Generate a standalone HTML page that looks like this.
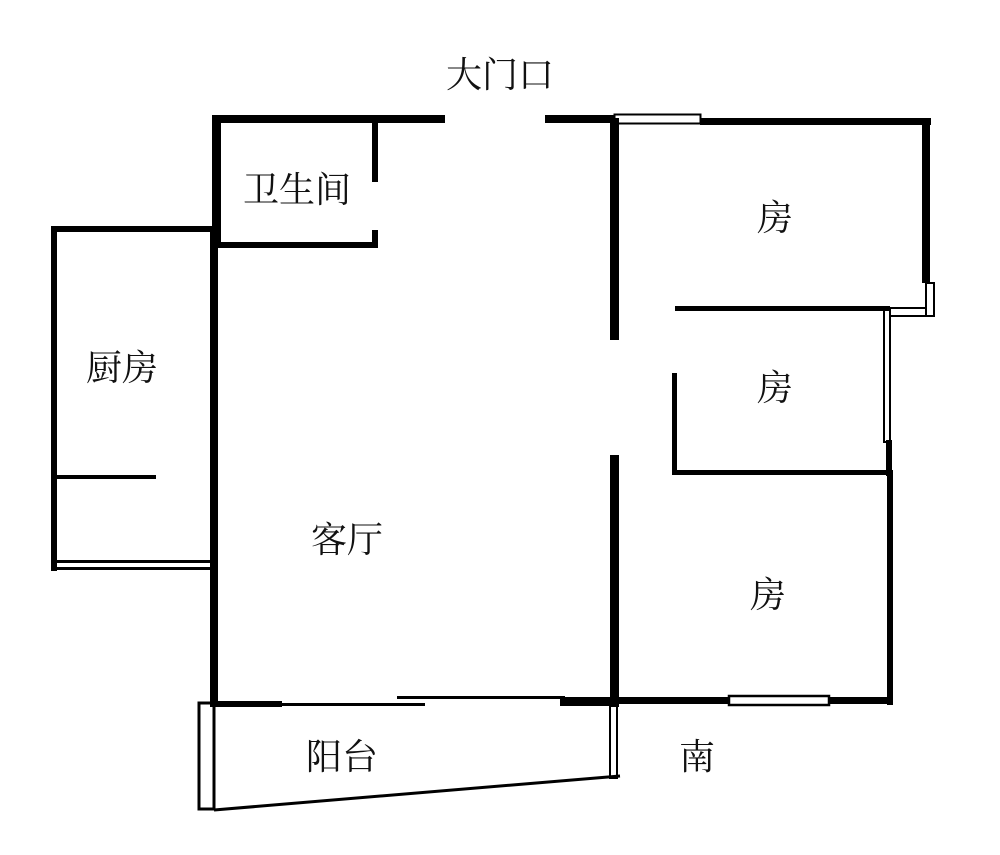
<!DOCTYPE html>
<html><head><meta charset="utf-8"><style>
html,body{margin:0;padding:0;background:#fff;}
svg{display:block;}
text{font-family:"Liberation Serif","Noto Serif CJK SC","Noto Sans CJK SC",serif;font-size:36px;fill:#111;text-anchor:middle;dominant-baseline:central;}
</style></head><body>
<svg width="1000" height="855" viewBox="0 0 1000 855" xmlns="http://www.w3.org/2000/svg">
<g fill="#000">
<rect x="212" y="115" width="233" height="8"/>
<rect x="545" y="115" width="70" height="8"/>
<rect x="212" y="115" width="9" height="133"/>
<rect x="372" y="120" width="6" height="62"/>
<rect x="372" y="230" width="6" height="18"/>
<rect x="220" y="242" width="158" height="6"/>
<rect x="210" y="226" width="8" height="480"/>
<rect x="51" y="226" width="165" height="6"/>
<rect x="51" y="226" width="6" height="345"/>
<rect x="56" y="475" width="100" height="4"/>
<rect x="56" y="560" width="154" height="3"/>
<rect x="56" y="567" width="154" height="3"/>
<rect x="610" y="118" width="9" height="222"/>
<rect x="610" y="455" width="9" height="252"/>
<rect x="700" y="118" width="231" height="7"/>
<rect x="922" y="118" width="8" height="165"/>
<rect x="675" y="306" width="215" height="5"/>
<rect x="672" y="373" width="5" height="102"/>
<rect x="673" y="470" width="220" height="5"/>
<rect x="886" y="440" width="6" height="36"/>
<rect x="887" y="475" width="6" height="230"/>
<rect x="612" y="697" width="117" height="7"/>
<rect x="829" y="697" width="64" height="7"/>
<rect x="210" y="701" width="72" height="6"/>
<rect x="282" y="703" width="143" height="3"/>
<rect x="397" y="696" width="168" height="3"/>
<rect x="560" y="697" width="55" height="9"/>
</g>
<g fill="none" stroke="#000">
<rect x="614.5" y="114.5" width="86" height="9" stroke-width="2"/>
<rect x="926" y="283" width="8" height="33" stroke-width="2"/>
<rect x="890" y="308" width="36" height="8" stroke-width="2"/>
<rect x="884" y="310" width="6" height="132" stroke-width="2"/>
<rect x="729" y="696" width="100" height="9" stroke-width="2.5"/>
<rect x="199" y="703" width="15" height="106" stroke-width="3"/>
<rect x="610" y="706" width="7" height="72" stroke-width="2"/>
<line x1="214" y1="810" x2="620" y2="776" stroke-width="3"/>
</g>
<text x="500" y="75">大门口</text>
<text x="297" y="190">卫生间</text>
<text x="122" y="368">厨房</text>
<text x="347" y="540">客厅</text>
<text x="775" y="218">房</text>
<text x="775" y="388">房</text>
<text x="768" y="595">房</text>
<text x="342" y="757">阳台</text>
<text x="697" y="757">南</text>
</svg>
</body></html>
